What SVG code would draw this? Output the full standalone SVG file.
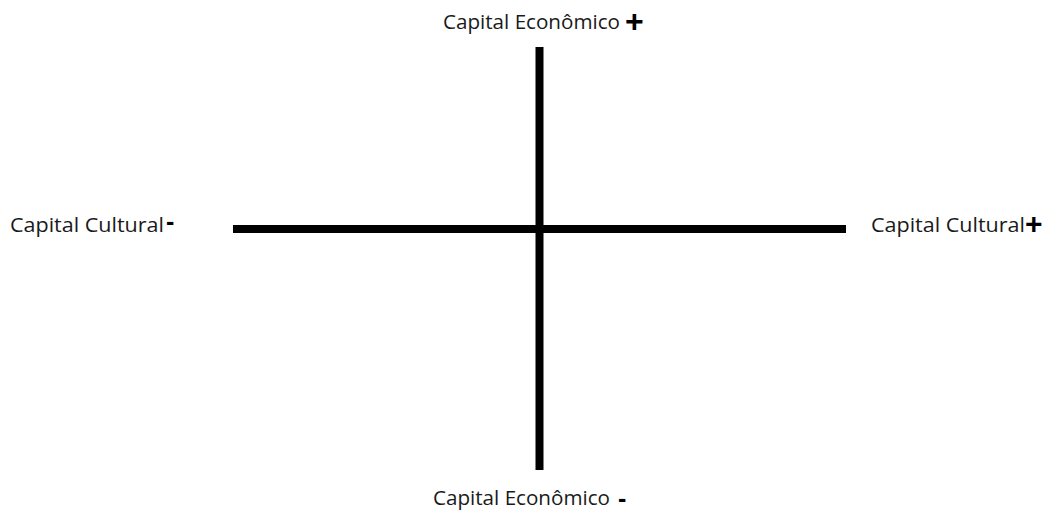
<svg xmlns="http://www.w3.org/2000/svg" width="1048" height="516" viewBox="0 0 1048 516">
<style>
.lbl{font-family:"Open Sans","Liberation Sans",sans-serif;font-size:20px;fill:#1a1a1a}
.sign{font-family:"Liberation Sans",sans-serif;font-weight:bold;fill:#000}
.axis{stroke:#000;stroke-width:8;fill:none}
</style>
<rect width="1048" height="516" fill="#fff"/>
<g id="connectors">
<line class="axis" x1="539.5" y1="47" x2="539.5" y2="470"/>
<line class="axis" x1="233" y1="229" x2="846" y2="229"/>
</g>
<g id="top">
<text class="lbl" x="443" y="28.5" textLength="177" lengthAdjust="spacingAndGlyphs">Capital Econômico</text>
<text class="sign" x="625" y="31.5" font-size="32">+</text>
</g>
<g id="left">
<text class="lbl" x="10" y="232" textLength="154" lengthAdjust="spacingAndGlyphs">Capital Cultural</text>
<text class="sign" x="166" y="229.5" font-size="25">-</text>
</g>
<g id="right">
<text class="lbl" x="871" y="232" textLength="154" lengthAdjust="spacingAndGlyphs">Capital Cultural</text>
<text class="sign" x="1025" y="234" font-size="30">+</text>
</g>
<g id="bottom">
<text class="lbl" x="433" y="505" textLength="177" lengthAdjust="spacingAndGlyphs">Capital Econômico</text>
<text class="sign" x="618" y="506.5" font-size="25">-</text>
</g>
</svg>
